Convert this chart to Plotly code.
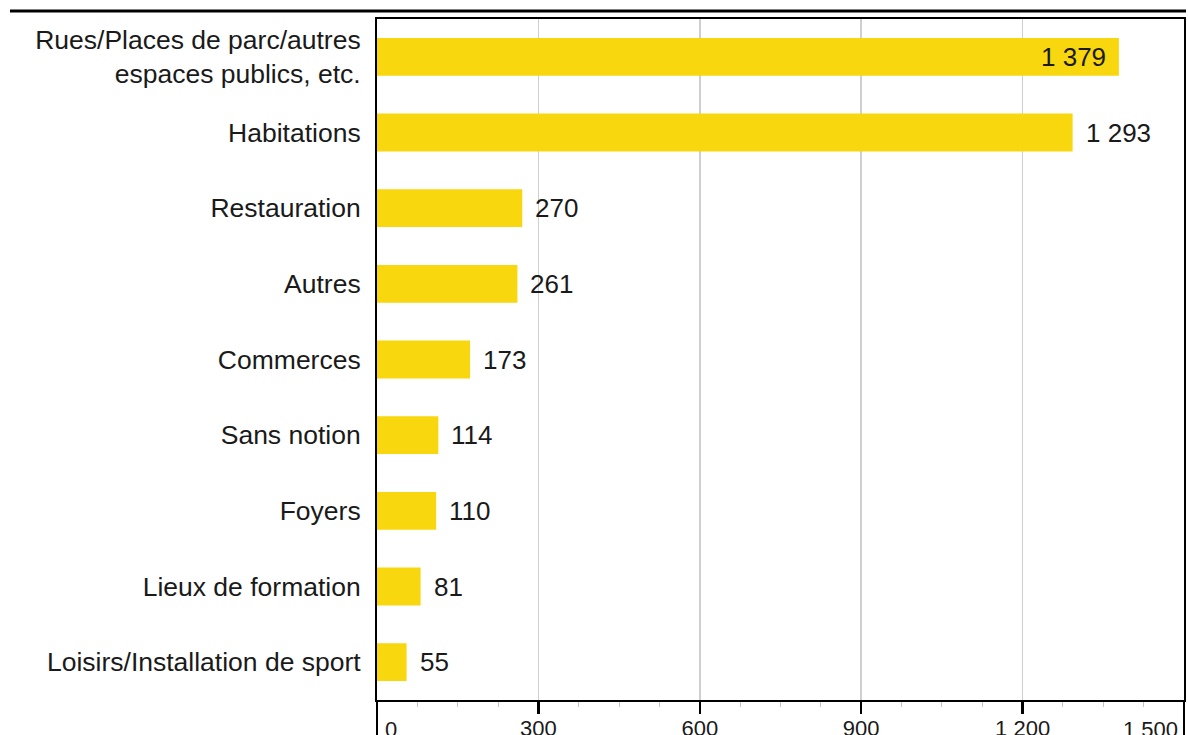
import plotly.graph_objects as go

categories = [
    "Rues/Places de parc/autres<br>espaces publics, etc.",
    "Habitations",
    "Restauration",
    "Autres",
    "Commerces",
    "Sans notion",
    "Foyers",
    "Lieux de formation",
    "Loisirs/Installation de sport",
]
values = [1379, 1293, 270, 261, 173, 114, 110, 81, 55]
inside_label = [True, False, False, False, False, False, False, False, False]

tick_vals = [0, 300, 600, 900, 1200, 1500]
tick_text = ["", "300", "600", "900", "1 200", ""]
edge_ticks = [(0, "0", "left"), (1500, "1 500", "right")]

BAR = "#F8D70E"
FONT = "Liberation Sans, Arial, Helvetica, sans-serif"

def fmt(v):
    return f"{v:,}".replace(",", " ")

fig = go.Figure()
fig.add_trace(go.Bar(
    x=values, y=categories, orientation="h",
    marker=dict(color=BAR, line=dict(width=0)),
    width=0.5, hoverinfo="skip",
))

annotations = []
for c, v, ins in zip(categories, values, inside_label):
    annotations.append(dict(
        x=v, y=c, xref="x", yref="y", text=fmt(v), showarrow=False,
        xanchor="right" if ins else "left", yanchor="middle",
        xshift=-11 if ins else 11,
        font=dict(family=FONT, size=26, color="#1a1a1a"),
    ))
for xv, txt, anc in edge_ticks:
    annotations.append(dict(
        x=xv, y=0, xref="x", yref="paper", text=txt, showarrow=False,
        xanchor=anc, yanchor="top", yshift=-15,
        xshift=6 if anc == "left" else -4,
        font=dict(family=FONT, size=22, color="#1a1a1a"),
    ))

frame_ext = [
    dict(type="line", xref="paper", yref="paper", x0=xp, x1=xp, y0=0, y1=-0.07,
         line=dict(color="black", width=2))
    for xp in (0, 1)
]

fig.update_layout(
    width=1188, height=735,
    margin=dict(l=377, r=4, t=19, b=35, autoexpand=False),
    paper_bgcolor="white", plot_bgcolor="white",
    showlegend=False,
    separators=", ",
    font=dict(family=FONT, color="#1a1a1a"),
    annotations=annotations,
    shapes=[dict(
        type="line", xref="paper", yref="paper",
        x0=-0.4548, x1=1.0025, y0=1.0118, y1=1.0118,
        line=dict(color="black", width=3),
    )] + frame_ext,
)
fig.update_xaxes(
    range=[0, 1500], tickvals=tick_vals, ticktext=tick_text,
    automargin=False,
    showgrid=True, gridcolor="#cfcfcf", gridwidth=1.5,
    showline=True, linecolor="black", linewidth=2, mirror=True,
    ticks="outside", ticklen=12, tickwidth=2.5, tickcolor="black",
    ticklabelstandoff=-4,
    tickfont=dict(family=FONT, size=22, color="#1a1a1a"),
    minor=dict(dtick=75, ticks="outside", ticklen=5, tickwidth=1, tickcolor="#c4c4c4", showgrid=False),
    zeroline=False, fixedrange=True,
)
fig.update_yaxes(
    categoryorder="array", categoryarray=categories, autorange="reversed",
    automargin=False,
    showline=True, linecolor="black", linewidth=2, mirror=True,
    ticks="", ticklabelstandoff=9,
    tickfont=dict(family=FONT, size=26.5, color="#1a1a1a"),
    showgrid=False, zeroline=False, fixedrange=True,
)

post = (
    "document.documentElement.style.margin='0';"
    "document.body.style.margin='0';"
    "document.documentElement.style.overflow='hidden';"
    "document.body.style.overflow='hidden';"
    "var gd=document.querySelector('.plotly-graph-div');"
    "gd.style.position='fixed';gd.style.top='0';gd.style.left='0';"
)

fig.write_html(
    "out.html",
    config={"displayModeBar": False, "staticPlot": True},
    post_script=post,
)
